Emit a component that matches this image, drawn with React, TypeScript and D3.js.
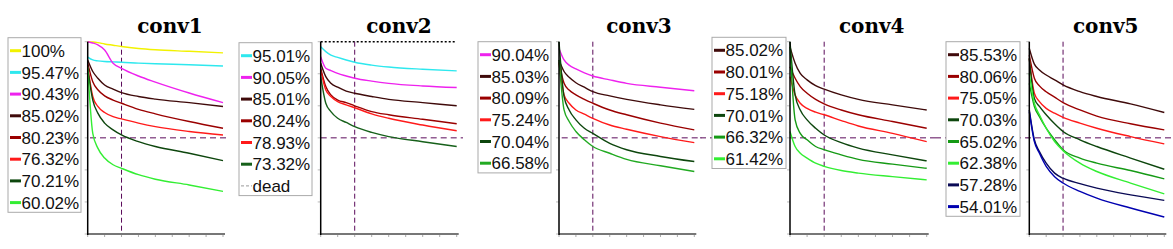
import * as d3 from 'd3';

// sampled x positions (axis units, 0..8)
const X_STEPS = [0, 0.3, 0.6, 1, 1.5, 2, 3, 4, 6, 8];
const X_TICKS = [0, 1, 2, 3, 4, 5, 6, 7, 8];
const Y_TICKS = [40, 50, 60, 70, 80, 90, 100];
const TITLES = ['conv1', 'conv2', 'conv3', 'conv4', 'conv5'];
const V_MARK = 2;
const H_MARK = 70;

const conv1Labels = ['100%', '95.47%', '90.43%', '85.02%', '80.23%', '76.32%', '70.21%', '60.02%'];
const conv1Values = [
  [100, 99.9, 99.7, 99.3, 98.9, 98.5, 97.9, 97.5, 97.0, 96.5],
  [95.2, 94.3, 94.0, 93.8, 93.7, 93.6, 93.3, 93.1, 92.8, 92.4],
  [100, 99.6, 99.0, 97.4, 93.3, 91.7, 89.3, 87.4, 84.0, 81.0],
  [94.3, 90.7, 88.6, 86.5, 85.2, 84.1, 82.9, 82.1, 81.0, 79.8],
  [93.3, 87.5, 85.0, 83.1, 81.8, 80.8, 78.9, 77.5, 75.1, 73.0],
  [92.2, 82.9, 79.8, 77.9, 76.6, 75.9, 74.6, 73.5, 72.0, 70.9],
  [91.7, 81.8, 77.7, 74.6, 72.5, 70.9, 68.8, 67.3, 65.2, 62.9],
  [92.2, 71.4, 66.8, 63.7, 61.6, 60.5, 58.5, 57.1, 55.3, 53.3],
];

const conv2Labels = ['95.01%', '90.05%', '85.01%', '80.24%', '78.93%', '73.32%'];
const conv2Values = [
  [98.4, 96.9, 95.8, 95.1, 94.3, 93.6, 92.7, 92.1, 91.4, 90.9],
  [95.3, 91.7, 91.0, 90.1, 89.3, 88.6, 87.7, 87.0, 86.2, 85.7],
  [93.3, 89.1, 87.0, 85.8, 84.6, 83.9, 82.9, 82.0, 81.0, 80.0],
  [91.7, 86.0, 83.4, 81.8, 81.0, 80.0, 78.2, 77.2, 75.8, 74.4],
  [91.2, 84.9, 82.9, 81.3, 80.3, 79.4, 77.5, 76.1, 74.0, 72.2],
  [89.1, 80.8, 78.2, 76.1, 74.8, 73.5, 71.7, 70.4, 68.8, 67.3],
];

const conv3Labels = ['90.04%', '85.03%', '80.09%', '75.24%', '70.04%', '66.58%'];
const conv3Values = [
  [97.9, 94.3, 92.7, 91.5, 90.3, 89.3, 88.1, 87.0, 85.8, 84.7],
  [94.3, 90.7, 88.9, 87.2, 85.8, 84.4, 83.1, 82.0, 80.3, 78.9],
  [93.8, 87.0, 84.9, 83.4, 82.0, 80.8, 78.7, 77.2, 74.6, 72.5],
  [93.3, 83.4, 80.8, 78.7, 77.4, 76.1, 74.0, 72.7, 70.4, 68.5],
  [100, 82.9, 78.7, 75.6, 73.0, 71.4, 68.3, 66.3, 64.2, 62.6],
  [94.3, 78.7, 75.1, 72.0, 69.4, 67.3, 65.2, 63.3, 61.3, 59.5],
];

const conv4Labels = ['85.02%', '80.01%', '75.18%', '70.01%', '66.32%', '61.42%'];
const conv4Values = [
  [98.4, 93.3, 90.1, 88.1, 86.3, 85.2, 83.4, 82.0, 80.3, 78.7],
  [92.2, 88.6, 86.0, 83.9, 82.0, 80.6, 78.7, 77.2, 75.1, 73.0],
  [89.1, 83.4, 80.8, 79.2, 78.0, 77.2, 75.4, 73.7, 71.4, 68.8],
  [100, 83.4, 78.7, 75.6, 73.0, 70.9, 68.5, 66.8, 64.7, 62.8],
  [98.4, 75.6, 71.4, 69.4, 67.3, 66.3, 64.7, 63.3, 61.8, 60.5],
  [72.0, 67.3, 65.2, 63.7, 62.1, 61.1, 59.8, 59.0, 57.9, 56.9],
];

const conv5Labels = ['85.53%', '80.06%', '75.05%', '70.03%', '65.02%', '62.38%', '57.28%', '54.01%'];
const conv5Values = [
  [97.9, 93.0, 91.2, 89.6, 88.1, 86.5, 84.4, 82.9, 80.6, 77.9],
  [95.8, 88.6, 86.2, 84.4, 82.7, 81.0, 78.7, 76.8, 74.4, 72.5],
  [94.8, 83.9, 81.3, 79.2, 77.7, 76.4, 74.6, 73.0, 70.4, 68.1],
  [94.8, 82.3, 79.8, 77.2, 74.4, 72.0, 69.4, 67.3, 63.7, 60.2],
  [87.0, 79.8, 76.6, 73.0, 69.4, 66.3, 63.7, 62.1, 59.8, 57.2],
  [90.1, 80.8, 77.2, 73.0, 68.8, 66.0, 62.1, 59.5, 55.9, 52.5],
  [78.7, 69.4, 65.7, 62.1, 59.0, 57.4, 55.7, 54.3, 52.2, 50.5],
  [78.2, 68.8, 65.2, 61.1, 57.9, 55.9, 53.3, 51.2, 48.1, 45.3],
];

const YELLOW = '#f2f200';
const CYAN = '#2ee8ee';
const MAGENTA = '#ee22ee';
const BROWN = '#3f0a0a';
const DARKRED = '#9a0000';
const RED = '#ff1a1a';
const DKGREEN = '#0d460d';
const MIDGREEN = '#159a15';
const LIME = '#33ee33';
const NAVY = '#0a0a55';
const BLUE = '#0000b0';

const conv1Colors = [YELLOW, CYAN, MAGENTA, BROWN, DARKRED, RED, DKGREEN, LIME];
const conv2Colors = [CYAN, MAGENTA, BROWN, DARKRED, RED, '#16601a'];
const conv3Colors = [MAGENTA, BROWN, DARKRED, RED, DKGREEN, '#22aa22'];
const conv4Colors = [BROWN, DARKRED, RED, DKGREEN, MIDGREEN, LIME];
const conv5Colors = [BROWN, DARKRED, RED, DKGREEN, MIDGREEN, LIME, NAVY, BLUE];

const PANEL_LABELS = [conv1Labels, conv2Labels, conv3Labels, conv4Labels, conv5Labels];
const PANEL_VALUES = [conv1Values, conv2Values, conv3Values, conv4Values, conv5Values];
const PANEL_COLORS = [conv1Colors, conv2Colors, conv3Colors, conv4Colors, conv5Colors];

// page layout of each panel
const LAYOUT = [
  { x0: 87.7, x1: 223, titleX: 170, legX: 8, legY: 37.7, legW: 73, h1: 90, h2: 230, dead: false },
  { x0: 320.7, x1: 456.7, titleX: 399, legX: 239, legY: 42.7, legW: 73, h1: 320.7, h2: 463, dead: true },
  { x0: 559, x1: 694.3, titleX: 639, legX: 478, legY: 41.7, legW: 73, h1: 561.7, h2: 702, dead: false },
  { x0: 790, x1: 926.7, titleX: 871.7, legX: 712, legY: 37.3, legW: 74, h1: 700, h2: 935, dead: false },
  { x0: 1029.3, x1: 1164.3, titleX: 1105.7, legX: 946, legY: 41.7, legW: 74, h1: 935, h2: 1173, dead: false },
];

const TOP = 41.7;
const BOTTOM = 234;
const ROW = 21.7;
const MARK = '#5a0a5a';

function Panel({ idx }: { idx: number }) {
  const L = LAYOUT[idx];
  const labels = PANEL_LABELS[idx];
  const values = PANEL_VALUES[idx];
  const colors = PANEL_COLORS[idx];

  const x = d3.scaleLinear().domain([0, 8]).range([L.x0, L.x1]);
  const y = d3.scaleLinear().domain([40, 100]).range([BOTTOM, TOP]);
  const line = d3
    .line<number>()
    .x((_, i) => x(X_STEPS[i]))
    .y((d) => y(d))
    .curve(d3.curveMonotoneX);

  const entries = labels.map((l, i) => ({ label: l, color: colors[i], dead: false }));
  if (L.dead) entries.push({ label: 'dead', color: '#999', dead: true });
  const legH = entries.length * ROW + 1;

  return (
    <g>
      <text
        x={L.titleX}
        y={33.3}
        textAnchor="middle"
        fontFamily="'DejaVu Serif', serif"
        fontWeight="bold"
        fontSize={20}
        fill="#000"
      >
        {TITLES[idx]}
      </text>

      {/* y ticks */}
      {Y_TICKS.map((t) => (
        <line key={t} x1={L.x0 - 3} x2={L.x0} y1={y(t)} y2={y(t)} stroke="#bbb" strokeWidth={1} />
      ))}
      {/* x ticks */}
      {X_TICKS.map((t) => (
        <line key={t} x1={x(t)} x2={x(t)} y1={BOTTOM + 1} y2={BOTTOM + 3} stroke="#aaa" strokeWidth={1} />
      ))}

      {L.dead && (
        <line x1={L.x0} x2={L.x1} y1={y(100)} y2={y(100)} stroke="#000" strokeWidth={1.5} strokeDasharray="2,2" />
      )}

      <line x1={L.h1} x2={L.h2} y1={y(H_MARK)} y2={y(H_MARK)} stroke={MARK} strokeWidth={1} strokeDasharray="6,4" />
      <line x1={x(V_MARK)} x2={x(V_MARK)} y1={TOP} y2={BOTTOM} stroke={MARK} strokeWidth={1} strokeDasharray="5,3" />

      {values.map((v, i) => (
        <path key={i} d={line(v) || ''} fill="none" stroke={colors[i]} strokeWidth={1.4} />
      ))}

      <line x1={L.x0} x2={L.x1 + 2} y1={BOTTOM} y2={BOTTOM} stroke="#777" strokeWidth={2} />
      <line x1={L.x0} x2={L.x0} y1={TOP} y2={BOTTOM + 1} stroke="#000" strokeWidth={1.5} />

      {/* legend */}
      <rect x={L.legX} y={L.legY} width={L.legW} height={legH} fill="#fff" stroke="#aaa" strokeWidth={1} />
      {entries.map((e, i) => {
        const cy = L.legY + 13 + i * ROW;
        return (
          <g key={e.label}>
            <line
              x1={L.legX + 2}
              x2={L.legX + 13}
              y1={cy}
              y2={cy}
              stroke={e.color}
              strokeWidth={e.dead ? 1 : 3}
              strokeDasharray={e.dead ? '3,2' : undefined}
            />
            <text
              x={L.legX + 13.5}
              y={cy}
              dy="0.36em"
              fontFamily="'Liberation Sans', Arial, sans-serif"
              fontSize={17}
              fill="#111"
            >
              {e.label}
            </text>
          </g>
        );
      })}
    </g>
  );
}

export default function App() {
  return (
    <svg
      width={1173}
      height={249}
      style={{ position: 'absolute', left: 0, top: 0, background: '#fff' }}
    >
      <rect width={1173} height={249} fill="#fff" />
      {LAYOUT.map((_, i) => (
        <Panel key={i} idx={i} />
      ))}
    </svg>
  );
}
